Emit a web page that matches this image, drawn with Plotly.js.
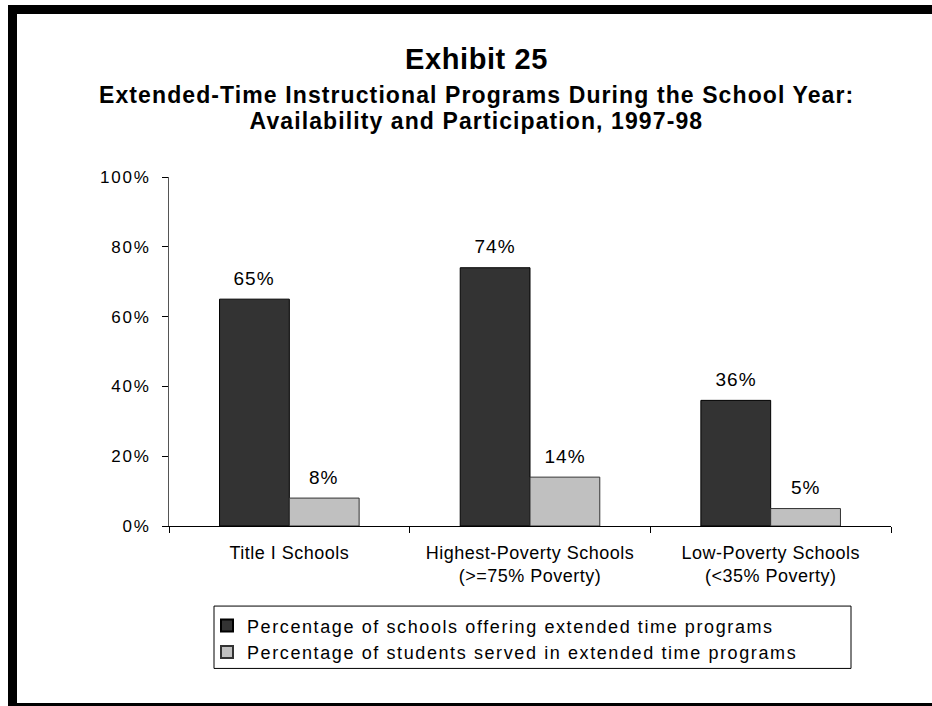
<!DOCTYPE html>
<html>
<head>
<meta charset="utf-8">
<script src="https://cdn.plot.ly/plotly-3.0.1.min.js"></script>
<style>
  html, body { margin: 0; padding: 0; background: #ffffff; overflow: hidden; width: 932px; height: 706px; }
  #frame { position: absolute; left: 8px; top: 5px; width: 1000px; height: 707px; box-sizing: border-box; border: 9px solid #000; }
  #chart { position: absolute; left: 0; top: 0; width: 932px; height: 706px; }
  #chart .xtick text { letter-spacing: 0.5px; }
  #chart .ytick text { letter-spacing: 1.8px; }
  #chart .legendtext { letter-spacing: 1.6px; }
  #chart .annotation text { letter-spacing: 1px; }
  #chart .annotation:nth-last-of-type(-n+2) text { letter-spacing: 1.1px; }
  #chart .gtitle { letter-spacing: 0.6px; }
</style>
</head>
<body>
<div id="frame"></div>
<div id="chart"></div>
<script>
const categories = ['Title I Schools', 'Highest-Poverty Schools<br>(&gt;=75% Poverty)', 'Low-Poverty Schools<br>(&lt;35% Poverty)'];
const seriesNames = ['Percentage of schools offering extended time programs', 'Percentage of students served in extended time programs'];
const schoolsOffering = [65, 74, 36];
const studentsServed = [8, 14, 5];
const yTickValues = [0, 20, 40, 60, 80, 100];
const yTickText = yTickValues.map(v => v + '%');
const titleText = 'Exhibit 25';
const subtitleLines = ['Extended-Time Instructional Programs During the School Year:', 'Availability and Participation, 1997-98'];

const FONT = 'Liberation Sans, Arial, sans-serif';

const traces = [
  { type: 'bar', name: seriesNames[0], x: categories, y: schoolsOffering,
    marker: { color: '#333333', line: { color: '#000000', width: 1 } }, hoverinfo: 'none' },
  { type: 'bar', name: seriesNames[1], x: categories, y: studentsServed,
    marker: { color: '#c0c0c0', line: { color: '#333333', width: 1 } }, hoverinfo: 'none' }
];

const annotations = [];
[schoolsOffering, studentsServed].forEach((vals, si) => {
  vals.forEach((v, i) => {
    annotations.push({ x: categories[i], y: v, xref: 'x', yref: 'y', text: v + '%', showarrow: false,
      xshift: si === 0 ? -35 : 35, yshift: 21, yanchor: 'middle',
      font: { family: FONT, size: 19, color: '#000' } });
  });
});
// subtitle lines (page pixel centres 95 and 121)
subtitleLines.forEach((line, k) => {
  annotations.push({ xref: 'paper', yref: 'paper', x: (476 - 169) / 722, y: (525.7 - (95 + 26 * k)) / 348.7,
    yanchor: 'middle', xanchor: 'center', showarrow: false,
    text: '<b>' + line + '</b>', font: { family: FONT, size: 23, color: '#000' } });
});

const layout = {
  width: 932, height: 706,
  paper_bgcolor: 'rgba(0,0,0,0)', plot_bgcolor: 'rgba(0,0,0,0)',
  margin: { l: 169, r: 41, t: 177, b: 180 },
  title: { text: '<b>' + titleText + '</b>', x: (476.5 - 169) / 722, xanchor: 'center', xref: 'paper', y: 1 - 58.5 / 706, yanchor: 'middle', yref: 'container',
    font: { family: FONT, size: 29, color: '#000' } },
  barmode: 'group', bargap: 0.42, bargroupgap: 0,
  showlegend: true,
  legend: { orientation: 'h', entrywidth: 620, entrywidthmode: 'pixels', x: 0.0526, xanchor: 'left', y: (525.7 - 607) / 348.7, yanchor: 'top',
    bgcolor: 'rgba(0,0,0,0)', borderwidth: 0,
    font: { family: FONT, size: 18, color: '#000' }, tracegroupgap: 0, itemsizing: 'constant', traceorder: 'normal' },
  xaxis: { type: 'category', showline: true, linecolor: '#000', linewidth: 1, ticks: 'outside', tickson: 'boundaries',
    ticklen: 6, tickcolor: '#000', tickfont: { family: FONT, size: 18, color: '#000' }, ticklabelstandoff: 10, showgrid: false, zeroline: false, fixedrange: true },
  yaxis: { range: [0, 100], tickmode: 'array', tickvals: yTickValues, ticktext: yTickText, showline: true, linecolor: '#555', linewidth: 1,
    ticks: 'outside', ticklen: 6, tickcolor: '#000', tickfont: { family: FONT, size: 17, color: '#000' }, ticklabelstandoff: 8,
    showgrid: false, zeroline: false, fixedrange: true },
  annotations: annotations,
  shapes: [{ type: 'rect', xref: 'paper', yref: 'paper', x0: (214 - 169) / 722, x1: (851 - 169) / 722,
    y0: (525.7 - 668) / 348.7, y1: (525.7 - 605.7) / 348.7, line: { color: '#000', width: 1 }, fillcolor: 'rgba(0,0,0,0)' }]
};

Plotly.newPlot('chart', traces, layout, { displayModeBar: false, staticPlot: true });
</script>
</body>
</html>
